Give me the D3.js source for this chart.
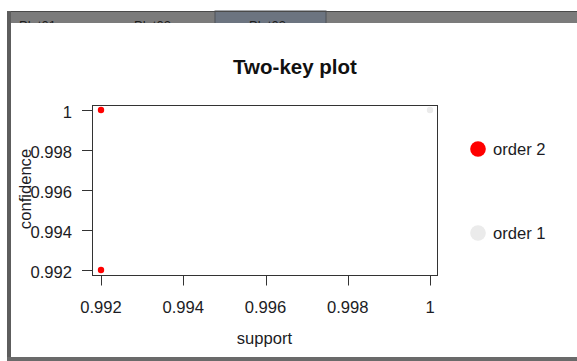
<!DOCTYPE html>
<html>
<head>
<meta charset="utf-8">
<script src="https://cdn.jsdelivr.net/npm/d3@7"></script>
<style>
  html, body { margin: 0; padding: 0; background: #fff; }
  svg { display: block; font-family: "Liberation Sans", Arial, sans-serif; }
</style>
</head>
<body>
<svg id="chart" width="577" height="361"></svg>
<script>
// Rules: support / confidence for each rule, and its order (number of items)
const support    = [0.992, 0.992, 1];
const confidence = [1, 0.992, 1];
const order      = [2, 2, 1];

// Tick values and their printed labels
const xTicks = [0.992, 0.994, 0.996, 0.998, 1];
const xTickLabels = ["0.992", "0.994", "0.996", "0.998", "1"];
const yTicks = [0.992, 0.994, 0.996, 0.998, 1];
const yTickLabels = ["0.992", "0.994", "0.996", "0.998", "1"];

// Legend entries
const legendOrders = [2, 1];
const legendLabels = ["order 2", "order 1"];

// Window tabs
const tabNames = ["Plot01", "Plot02", "Plot03"];

const svg = d3.select("#chart");
const W = 577, H = 361;
const FS = 16.6;

// ---- viewer window chrome ----
const chrome = svg.append("g");
const tabX = d3.scaleLinear().domain([0, 1]).range([-15, 100]);
chrome.append("rect").attr("x", 7).attr("y", 11).attr("width", W - 7).attr("height", 14).attr("fill", "#7b7b7b");
chrome.append("rect").attr("x", tabX(2)).attr("y", 11).attr("width", 111).attr("height", 14)
  .attr("fill", "#6c7480").attr("stroke", "#4f5358").attr("stroke-width", 1);
chrome.append("line").attr("x1", 7).attr("x2", W).attr("y1", 11.5).attr("y2", 11.5).attr("stroke", "#4a4a4a");
chrome.selectAll("text.tab").data(tabNames).join("text")
  .attr("class", "tab")
  .attr("x", (d, i) => tabX(i) + 34)
  .attr("y", 30)
  .attr("font-size", 13)
  .attr("fill", "#1e1e1e")
  .text(d => d);
// plot canvas (covers lower part of the tab captions)
chrome.append("rect").attr("x", 11).attr("y", 23).attr("width", W - 11).attr("height", 334).attr("fill", "#fff");
chrome.append("rect").attr("x", 7).attr("y", 11).attr("width", 4).attr("height", H - 11).attr("fill", "#5d5d5d");
chrome.append("rect").attr("x", 7).attr("y", 357).attr("width", W - 7).attr("height", 4).attr("fill", "#6a6a6a");

// ---- plot ----
const box = { left: 92, right: 437, top: 105, bottom: 275 };
const x = d3.scaleLinear().domain([0.992, 1]).range([101, 430]);
const y = d3.scaleLinear().domain([0.992, 1]).range([270, 110]);

const colorFor = d3.scaleOrdinal().domain([2, 1]).range(["#ff0000", "#ebebeb"]);

const g = svg.append("g");

// points (order 1 first, order 2 on top)
const idx = d3.range(support.length).sort((a, b) => order[a] - order[b]);
g.selectAll("circle.pt").data(idx).join("circle")
  .attr("class", "pt")
  .attr("cx", i => x(support[i]))
  .attr("cy", i => y(confidence[i]))
  .attr("r", 3.2)
  .attr("fill", i => colorFor(order[i]));

// frame
g.append("rect")
  .attr("x", box.left + 0.5).attr("y", box.top + 0.5)
  .attr("width", box.right - box.left).attr("height", box.bottom - box.top)
  .attr("fill", "none").attr("stroke", "#333").attr("stroke-width", 1);

// x axis
const xa = g.append("g");
xa.selectAll("line").data(xTicks).join("line")
  .attr("x1", d => Math.round(x(d)) + 0.5).attr("x2", d => Math.round(x(d)) + 0.5)
  .attr("y1", box.bottom + 0.5).attr("y2", box.bottom + 10.5)
  .attr("stroke", "#333");
xa.selectAll("text").data(xTicks).join("text")
  .attr("x", d => x(d)).attr("y", 313)
  .attr("text-anchor", "middle").attr("font-size", FS).attr("fill", "#1c1c24")
  .text((d, i) => xTickLabels[i]);

// y axis
const ya = g.append("g");
ya.selectAll("line").data(yTicks).join("line")
  .attr("x1", box.left - 10).attr("x2", box.left + 0.5)
  .attr("y1", d => Math.round(y(d)) + 0.5).attr("y2", d => Math.round(y(d)) + 0.5)
  .attr("stroke", "#333");
ya.selectAll("text").data(yTicks).join("text")
  .attr("x", 72).attr("y", d => y(d) + 7.5)
  .attr("text-anchor", "end").attr("font-size", FS).attr("fill", "#1c1c24")
  .text((d, i) => yTickLabels[i]);

// axis titles
g.append("text").attr("x", (box.left + box.right) / 2).attr("y", 344)
  .attr("text-anchor", "middle").attr("font-size", FS).attr("fill", "#1c1c24").text("support");
g.append("text").attr("transform", "translate(31,189) rotate(-90)")
  .attr("text-anchor", "middle").attr("font-size", FS).attr("fill", "#1c1c24").text("confidence");

// title
g.append("text").attr("x", 295).attr("y", 74)
  .attr("text-anchor", "middle").attr("font-size", 20.5).attr("font-weight", "bold")
  .attr("fill", "#111").text("Two-key plot");

// legend
const ly = d3.scalePoint().domain(legendOrders).range([149, 233]);
const lg = g.append("g");
lg.selectAll("circle").data(legendOrders).join("circle")
  .attr("cx", 478).attr("cy", d => ly(d)).attr("r", 7.8)
  .attr("fill", d => colorFor(d));
lg.selectAll("text").data(legendOrders).join("text")
  .attr("x", 493).attr("y", d => ly(d) + 6)
  .attr("font-size", FS).attr("fill", "#1c1c24")
  .text((d, i) => legendLabels[i]);
</script>
</body>
</html>
